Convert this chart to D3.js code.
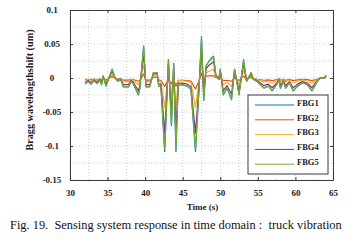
<!DOCTYPE html>
<html>
<head>
<meta charset="utf-8">
<script src="https://cdn.jsdelivr.net/npm/d3@7"></script>
<style>
  body { margin: 0; background: #fff; }
  svg { display: block; }
  svg text { font-family: "Liberation Serif", "DejaVu Serif", serif; }
</style>
</head>
<body>
<script>
// time stamps (s)
var times = [32.0,32.4,32.8,33.2,33.6,34.0,34.2,34.4,34.8,35.6,
  36.0,36.4,36.7,37.1,37.8,38.1,38.4,39.1,39.3,39.8,
  40.1,40.6,40.8,41.1,41.6,41.8,42.1,42.6,43.1,43.5,
  43.8,44.1,44.4,44.9,45.6,46.1,46.7,47.2,47.5,47.8,
  48.1,48.5,49.1,49.4,49.8,50.0,50.4,50.9,51.5,51.9,
  52.2,52.5,53.1,53.5,54.1,54.4,54.9,55.8,56.4,56.9,
  57.6,57.8,58.0,58.4,58.7,59.2,59.7,60.3,60.9,61.6,
  62.2,62.9,63.3,63.8,64.1];

var fbg1 = [-0.009,-0.005,-0.009,-0.004,-0.008,-0.003,-0.010,0.003,-0.012,0.013,
  0.000,-0.005,-0.001,-0.013,-0.013,-0.005,-0.008,-0.025,-0.015,0.047,
  -0.013,-0.013,-0.005,0.008,0.008,-0.012,-0.012,-0.108,0.027,-0.070,
  0.022,-0.108,-0.010,-0.010,-0.012,-0.017,-0.108,-0.010,0.061,-0.033,
  0.018,0.025,0.032,0.005,-0.002,0.013,-0.025,-0.015,-0.032,0.013,
  -0.006,-0.025,0.027,-0.005,0.008,-0.002,-0.005,-0.015,-0.012,-0.019,
  -0.008,-0.002,-0.015,-0.005,-0.015,-0.007,-0.019,-0.012,-0.007,-0.010,
  -0.019,-0.005,0.000,0.000,0.004];

var fbg2 = [-0.0024,-0.0018,-0.0024,-0.0016,-0.0022,-0.0015,-0.0025,0.0005,-0.0028,0.0020,
  0.0000,-0.0018,-0.0012,-0.0030,-0.0030,-0.0018,-0.0022,-0.0048,-0.0033,0.0061,
  -0.0030,-0.0030,-0.0018,0.0012,0.0012,-0.0028,-0.0038,-0.0122,-0.0020,-0.0085,
  -0.0010,-0.0122,-0.0035,-0.0035,-0.0038,-0.0046,-0.0162,-0.0035,0.0072,-0.0050,
  0.0027,0.0030,0.0033,0.0008,-0.0003,0.0015,-0.0038,-0.0033,-0.0048,0.0010,
  -0.0019,-0.0038,0.0031,-0.0018,0.0012,-0.0013,-0.0018,-0.0033,-0.0028,-0.0039,
  -0.0022,-0.0013,-0.0033,-0.0018,-0.0033,-0.0021,-0.0039,-0.0028,-0.0021,-0.0025,
  -0.0039,-0.0018,-0.0005,0.0000,0.0006];

var fbg3 = [-0.0036,-0.0020,-0.0036,-0.0016,-0.0032,-0.0012,-0.0040,0.0012,-0.0048,0.0052,
  0.0000,-0.0020,-0.0004,-0.0052,-0.0052,-0.0020,-0.0032,-0.0100,-0.0060,0.0188,
  -0.0052,-0.0052,-0.0020,0.0032,0.0032,-0.0048,-0.0048,-0.0432,0.0108,-0.0280,
  0.0088,-0.0432,-0.0040,-0.0040,-0.0048,-0.0068,-0.0432,-0.0040,0.0244,-0.0132,
  0.0072,0.0100,0.0128,0.0020,-0.0008,0.0052,-0.0100,-0.0060,-0.0128,0.0052,
  -0.0024,-0.0100,0.0108,-0.0020,0.0032,-0.0008,-0.0020,-0.0060,-0.0048,-0.0076,
  -0.0032,-0.0008,-0.0060,-0.0020,-0.0060,-0.0028,-0.0076,-0.0048,-0.0028,-0.0040,
  -0.0076,-0.0020,0.0000,0.0000,0.0016];

var fbg4 = [-0.0068,-0.0038,-0.0068,-0.0030,-0.0060,-0.0023,-0.0075,0.0023,-0.0090,0.0098,
  0.0000,-0.0038,-0.0008,-0.0098,-0.0098,-0.0038,-0.0060,-0.0188,-0.0113,0.0353,
  -0.0098,-0.0098,-0.0038,0.0060,0.0060,-0.0090,-0.0090,-0.0810,0.0203,-0.0525,
  0.0165,-0.0810,-0.0075,-0.0075,-0.0090,-0.0128,-0.0810,-0.0075,0.0458,-0.0248,
  0.0135,0.0188,0.0240,0.0038,-0.0015,0.0098,-0.0188,-0.0113,-0.0240,0.0098,
  -0.0045,-0.0188,0.0203,-0.0038,0.0060,-0.0015,-0.0038,-0.0113,-0.0090,-0.0143,
  -0.0060,-0.0015,-0.0113,-0.0038,-0.0113,-0.0053,-0.0143,-0.0090,-0.0053,-0.0075,
  -0.0143,-0.0038,0.0000,0.0000,0.0030];

var fbg5 = [-0.0087,-0.0049,-0.0087,-0.0039,-0.0078,-0.0029,-0.0097,0.0029,-0.0116,0.0126,
  0.0000,-0.0049,-0.0010,-0.0126,-0.0126,-0.0049,-0.0078,-0.0243,-0.0146,0.0456,
  -0.0126,-0.0126,-0.0049,0.0078,0.0078,-0.0116,-0.0116,-0.1048,0.0262,-0.0679,
  0.0213,-0.1048,-0.0097,-0.0097,-0.0116,-0.0165,-0.1048,-0.0097,0.0592,-0.0320,
  0.0175,0.0243,0.0310,0.0049,-0.0019,0.0126,-0.0243,-0.0146,-0.0310,0.0126,
  -0.0058,-0.0243,0.0262,-0.0049,0.0078,-0.0019,-0.0049,-0.0146,-0.0116,-0.0184,
  -0.0078,-0.0019,-0.0146,-0.0049,-0.0146,-0.0068,-0.0184,-0.0116,-0.0068,-0.0097,
  -0.0184,-0.0049,0.0000,0.0000,0.0039];

var seriesNames = ['FBG1','FBG2','FBG3','FBG4','FBG5'];
var seriesColors = ['#0072BD','#D95319','#EDB120','#7E2F8E','#77AC30'];
var xTicks = [30,35,40,45,50,55,60,65];
var yTicks = [-0.15,-0.1,-0.05,0,0.05,0.1];
var yTickLabels = ['-0.15','-0.1','-0.05','0','0.05','0.1'];
var caption = 'Fig. 19.  Sensing system response in time domain :  truck vibration';

(function(){
  const W = 356, H = 248;
  const MARGIN = { top: 10, right: 23, bottom: 68, left: 70 };
  const SERIF = '"Liberation Serif", "DejaVu Serif", serif';
  var width = W - MARGIN.left - MARGIN.right;
  var height = H - MARGIN.top - MARGIN.bottom;
  var allSeries = [fbg1, fbg2, fbg3, fbg4, fbg5];

  var svg = d3.select('body').append('svg')
    .attr('width', W).attr('height', H)
    .attr('font-family', SERIF);
  var g = svg.append('g')
    .attr('transform', 'translate(' + MARGIN.left + ',' + MARGIN.top + ')');

  var x = d3.scaleLinear().domain([30, 65]).range([0, width]);
  var y = d3.scaleLinear().domain([-0.15, 0.1]).range([height, 0]);

  // dotted grid (every half step)
  var xGrid = d3.range(30, 65.01, 2.5), yGrid = d3.range(-0.15, 0.1001, 0.025);
  g.append('g').selectAll('line').data(xGrid).enter().append('line')
    .attr('x1', d => x(d)).attr('x2', d => x(d))
    .attr('y1', 0).attr('y2', height)
    .attr('stroke', '#c4c4c4').attr('stroke-width', 0.8).attr('stroke-dasharray', '1,2');
  g.append('g').selectAll('line').data(yGrid).enter().append('line')
    .attr('y1', d => y(d)).attr('y2', d => y(d))
    .attr('x1', 0).attr('x2', width)
    .attr('stroke', '#c4c4c4').attr('stroke-width', 0.8).attr('stroke-dasharray', '1,2');

  // lines
  var line = d3.line()
    .x((d, i) => x(times[i]))
    .y(d => y(d));
  g.append('g').selectAll('path').data(allSeries).enter().append('path')
    .attr('d', line)
    .attr('fill', 'none')
    .attr('stroke', (d, i) => seriesColors[i])
    .attr('stroke-width', 1.2)
    .attr('stroke-linejoin', 'round');

  // axes (ticks inward, box on all sides)
  var axisStyle = function(sel){
    sel.attr('font-family', SERIF);
    sel.select('.domain').attr('stroke', '#3a3a3a');
    sel.selectAll('.tick line').attr('stroke', '#3a3a3a');
    sel.selectAll('text').attr('fill', '#222').attr('font-weight', 'bold')
      .attr('font-size', '9px').attr('font-family', SERIF);
  };
  g.append('g').attr('transform', 'translate(0,' + height + ')')
    .call(d3.axisBottom(x).tickValues(xTicks).tickSize(-3).tickPadding(10).tickSizeOuter(0))
    .call(axisStyle);
  g.append('g')
    .call(d3.axisLeft(y).tickValues(yTicks).tickSize(-3).tickPadding(10).tickSizeOuter(0)
      .tickFormat((d, i) => yTickLabels[i]))
    .call(axisStyle)
    .selectAll('text').attr('text-anchor', 'middle').attr('x', -18);
  g.append('g')
    .call(d3.axisTop(x).tickValues(xTicks).tickSize(-3).tickSizeOuter(0).tickFormat(''))
    .call(axisStyle);
  g.append('g').attr('transform', 'translate(' + width + ',0)')
    .call(d3.axisRight(y).tickValues(yTicks).tickSize(-3).tickSizeOuter(0).tickFormat(''))
    .call(axisStyle);

  // axis labels
  g.append('text')
    .attr('x', width / 2 + 1).attr('y', height + 30)
    .attr('text-anchor', 'middle').attr('font-weight', 'bold').attr('font-size', '9px')
    .attr('fill', '#222')
    .text('Time (s)');
  svg.append('text')
    .attr('transform', 'translate(33,' + (MARGIN.top + height / 2 - 5) + ') rotate(-90)')
    .attr('text-anchor', 'middle').attr('font-weight', 'bold').attr('font-size', '10.2px')
    .attr('fill', '#222')
    .text('Bragg wavelengthshift (um)');

  // legend
  var lg = g.append('g').attr('transform', 'translate(' + (248 - MARGIN.left) + ',' + (95 - MARGIN.top) + ')');
  lg.append('rect').attr('width', 80).attr('height', 79)
    .attr('fill', '#fff').attr('stroke', '#3a3a3a').attr('stroke-width', 1);
  var item = lg.selectAll('g.item').data(seriesNames).enter().append('g')
    .attr('class', 'item')
    .attr('transform', (d, i) => 'translate(0,' + (10 + i * 14.8) + ')');
  item.append('line').attr('x1', 7).attr('x2', 46).attr('y1', 0).attr('y2', 0)
    .attr('stroke', (d, i) => seriesColors[i]).attr('stroke-width', 1);
  item.append('text').attr('x', 49).attr('y', 0).attr('dy', '0.1em')
    .attr('font-weight', 'bold').attr('font-size', '8.5px').attr('fill', '#222')
    .text(d => d);

  // caption
  svg.append('text')
    .attr('x', 10).attr('y', 229)
    .attr('font-size', '12.4px').attr('fill', '#111')
    .style('white-space', 'pre')
    .text(caption);
})();
</script>
</body>
</html>
